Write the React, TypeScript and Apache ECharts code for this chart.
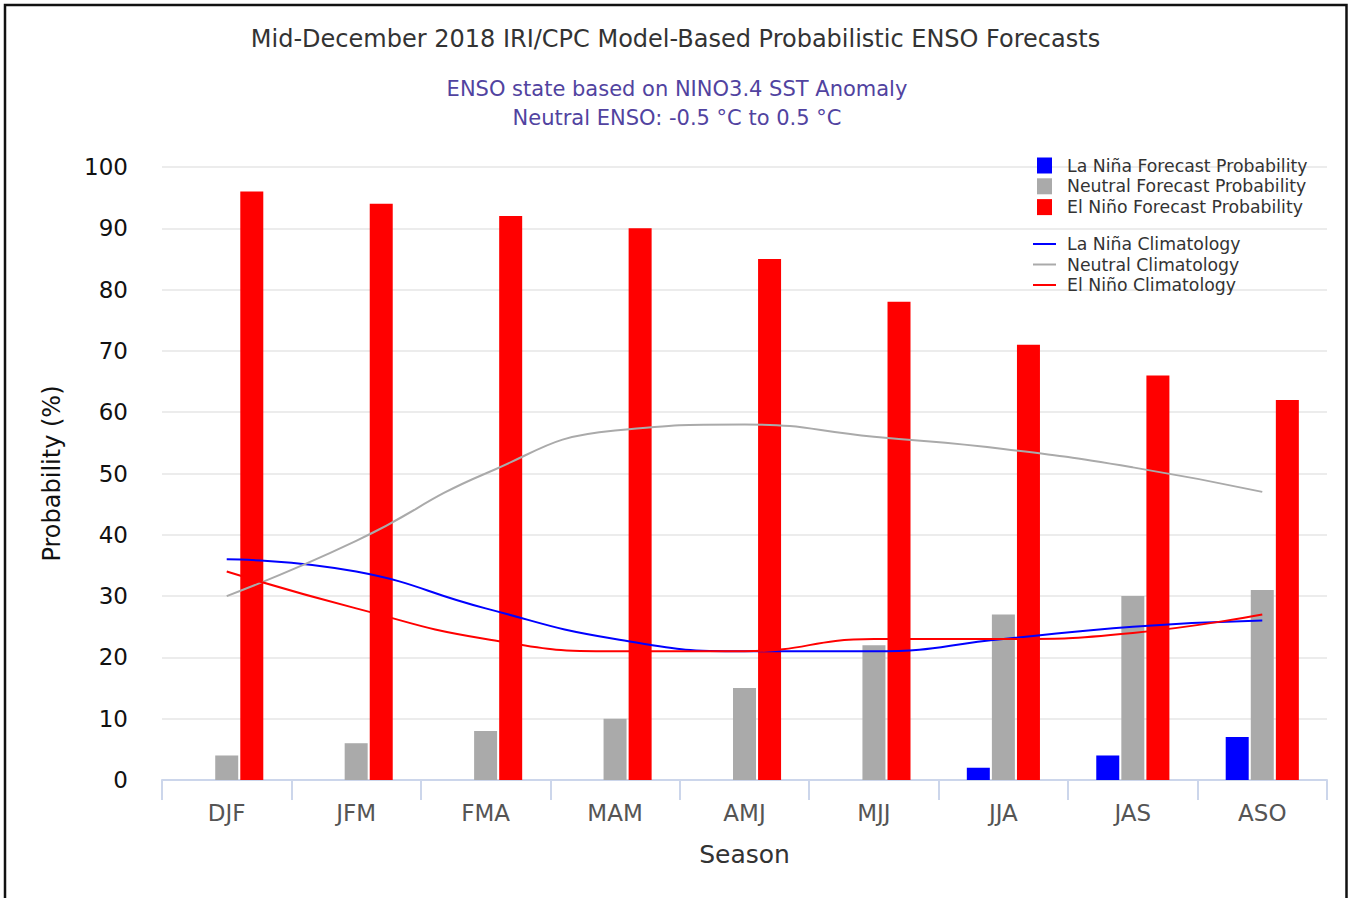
import React, { useEffect, useRef } from "react";
import * as echarts from "echarts";

const seasons = ["DJF", "JFM", "FMA", "MAM", "AMJ", "MJJ", "JJA", "JAS", "ASO"];
const laNinaForecast = [0, 0, 0, 0, 0, 0, 2, 4, 7];
const neutralForecast = [4, 6, 8, 10, 15, 22, 27, 30, 31];
const elNinoForecast = [96, 94, 92, 90, 85, 78, 71, 66, 62];
const laNinaClim = [36, 34, 28, 23, 21, 21, 23, 25, 26];
const neutralClim = [30, 39, 50, 57, 58, 56, 54, 51, 47];
const elNinoClim = [34, 28, 23, 21, 21, 23, 23, 24, 27];

const FONT = "DejaVu Sans";

export default function App() {
  const ref = useRef<HTMLDivElement>(null);
  useEffect(() => {
    if (!ref.current) return;
    const chart = echarts.init(ref.current, null, { renderer: "svg" });
    const barNames = [
      "La Niña Forecast Probability",
      "Neutral Forecast Probability",
      "El Niño Forecast Probability",
    ];
    const lineNames = ["La Niña Climatology", "Neutral Climatology", "El Niño Climatology"];
    const legendText = { fontFamily: FONT, fontSize: 17.3, color: "#333", lineHeight: 17 };
    chart.setOption({
      animation: false,
      backgroundColor: "#fff",
      title: [
        {
          text: "Mid-December 2018 IRI/CPC Model-Based Probabilistic ENSO Forecasts",
          left: "center",
          top: 27,
          padding: 0,
          textStyle: { fontFamily: FONT, fontSize: 24, fontWeight: "normal", color: "#333" },
        },
        {
          text: "ENSO state based on NINO3.4 SST Anomaly\nNeutral ENSO: -0.5 °C to 0.5 °C",
          left: 677,
          top: 74,
          padding: 0,
          textAlign: "center",
          textStyle: {
            fontFamily: FONT,
            fontSize: 21,
            fontWeight: "normal",
            color: "#5143a0",
            lineHeight: 29,
            align: "center",
          },
        },
      ],
      legend: [
        {
          data: barNames,
          orient: "vertical",
          left: 1037,
          top: 157,
          padding: 0,
          itemGap: 3.8,
          itemWidth: 15,
          itemHeight: 16,
          icon: "rect",
          textStyle: { ...legendText, padding: [0, 0, 0, 10] },
        },
        {
          data: lineNames,
          orient: "vertical",
          left: 1033,
          top: 235.5,
          padding: 0,
          itemGap: 3.5,
          itemWidth: 23,
          itemHeight: 2,
          icon: "rect",
          textStyle: { ...legendText, padding: [0, 0, 0, 6] },
        },
      ],
      grid: { left: 162, right: 24, top: 167, bottom: 118 },
      xAxis: {
        type: "category",
        data: seasons,
        name: "Season",
        nameLocation: "middle",
        nameGap: 62,
        nameTextStyle: { fontFamily: FONT, fontSize: 25, color: "#333" },
        axisLine: { lineStyle: { color: "#ccd6eb", width: 2 } },
        axisTick: { show: true, length: 20, lineStyle: { color: "#ccd6eb", width: 2 } },
        axisLabel: { fontFamily: FONT, fontSize: 23, color: "#555", margin: 21 },
      },
      yAxis: {
        type: "value",
        min: 0,
        max: 100,
        interval: 10,
        name: "Probability (%)",
        nameLocation: "middle",
        nameRotate: 90,
        nameGap: 98,
        nameTextStyle: { fontFamily: FONT, fontSize: 24, color: "#111" },
        axisLine: { show: false },
        axisTick: { show: false },
        axisLabel: { fontFamily: FONT, fontSize: 23, color: "#111", margin: 34 },
        splitLine: { lineStyle: { color: "#e6e6e6", width: 1.5 } },
      },
      series: [
        {
          name: barNames[0],
          type: "bar",
          data: laNinaForecast,
          barWidth: 23,
          barGap: "9%",
          itemStyle: { color: "#0000ff" },
        },
        {
          name: barNames[1],
          type: "bar",
          data: neutralForecast,
          barWidth: 23,
          barGap: "9%",
          itemStyle: { color: "#aaaaaa" },
        },
        {
          name: barNames[2],
          type: "bar",
          data: elNinoForecast,
          barWidth: 23,
          barGap: "9%",
          itemStyle: { color: "#ff0000" },
        },
        {
          name: lineNames[0],
          type: "line",
          data: laNinaClim,
          smooth: true,
          showSymbol: false,
          symbol: "none",
          lineStyle: { color: "#0000ff", width: 2 },
          itemStyle: { color: "#0000ff" },
          z: 5,
        },
        {
          name: lineNames[1],
          type: "line",
          data: neutralClim,
          smooth: true,
          showSymbol: false,
          symbol: "none",
          lineStyle: { color: "#aaaaaa", width: 2 },
          itemStyle: { color: "#aaaaaa" },
          z: 5,
        },
        {
          name: lineNames[2],
          type: "line",
          data: elNinoClim,
          smooth: true,
          showSymbol: false,
          symbol: "none",
          lineStyle: { color: "#ff0000", width: 2 },
          itemStyle: { color: "#ff0000" },
          z: 5,
        },
      ],
      graphic: [
        {
          type: "polyline",
          silent: true,
          shape: { points: [[5, 898], [5, 5], [1346.5, 5], [1346.5, 898]] },
          style: { stroke: "#111", lineWidth: 2.5, fill: null },
        },
      ],
    });
    return () => chart.dispose();
  }, []);
  return (
    <div
      ref={ref}
      style={{ position: "absolute", left: 0, top: 0, width: 1351, height: 898 }}
    />
  );
}
